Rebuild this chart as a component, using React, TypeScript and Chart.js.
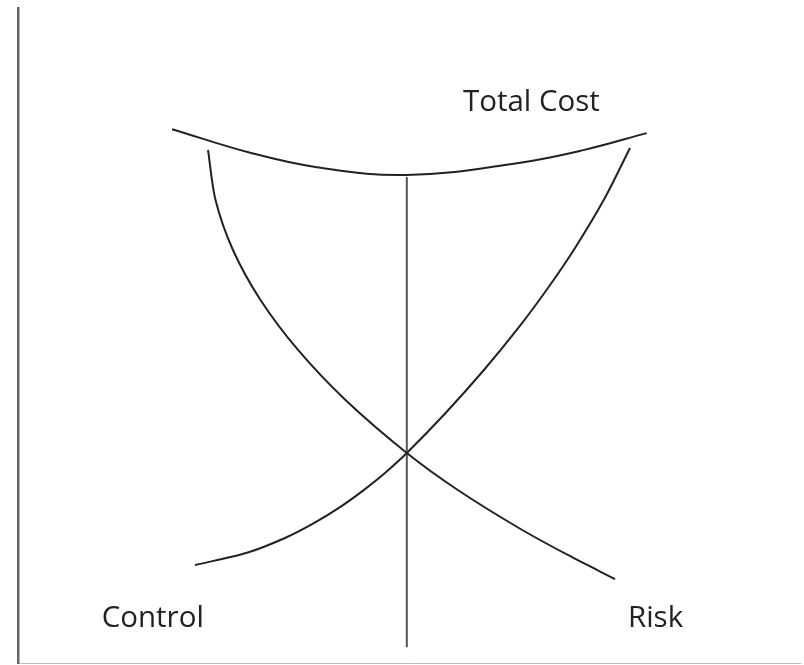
import React, { useEffect, useRef } from "react";
import { Chart, registerables } from "chart.js";

Chart.register(...registerables);

// Curves (arbitrary units 0..100 on both axes)
const totalCostX = [19.7, 29.7, 38.2, 49.7, 63.8, 72.3, 80.4];
const totalCostY = [81.5, 77.9, 75.7, 74.5, 76.3, 78.3, 80.9];

const riskX = [24.3, 25.26, 27.49, 31.01, 35.81, 41.88, 49.72, 56.24, 64.05, 70.31, 76.34];
const riskY = [78.32, 70.69, 63.05, 55.42, 47.79, 40.15, 32.06, 26.41, 20.61, 16.49, 12.82];

const controlX = [22.63, 29.28, 34.14, 37.72, 41.18, 44.12, 46.93, 49.72, 54.68, 59.58, 63.98, 67.77, 71.23, 75.04, 78.26];
const controlY = [14.96, 16.82, 19.08, 21.27, 23.8, 26.32, 29.02, 32.06, 38.17, 44.73, 51.15, 57.25, 63.36, 70.99, 78.63];

const optimumX = [49.72, 49.72];
const optimumY = [74.2, 2.4];

const labelTexts = ["Total Cost", "Control", "Risk"];
const labelX = [56.9, 10.7, 78.0];
const labelY = [84.3, 5.5, 5.5];

const zip = (xs: number[], ys: number[]) => xs.map((x, i) => ({ x, y: ys[i] }));

const labelPlugin = {
  id: "curveLabels",
  afterDatasetsDraw(chart: any) {
    const { ctx, scales } = chart;
    ctx.save();
    ctx.font = '29.5px "Open Sans", sans-serif';
    ctx.fillStyle = "#222";
    ctx.textAlign = "left";
    ctx.textBaseline = "alphabetic";
    labelTexts.forEach((t, i) => {
      ctx.fillText(t, scales.x.getPixelForValue(labelX[i]), scales.y.getPixelForValue(labelY[i]));
    });
    ctx.restore();
  },
};

export default function App() {
  const ref = useRef<HTMLCanvasElement | null>(null);
  useEffect(() => {
    if (!ref.current) return;
    const line = (data: any, color: string, width: number, tension: number) => ({
      data,
      showLine: true,
      borderColor: color,
      borderWidth: width,
      pointRadius: 0,
      tension,
      fill: false,
    });
    const chart = new Chart(ref.current, {
      type: "scatter",
      data: {
        datasets: [
          line(zip(totalCostX, totalCostY), "#222", 2, 0.4),
          line(zip(riskX, riskY), "#222", 2, 0.3),
          line(zip(controlX, controlY), "#222", 2, 0.3),
          line(zip(optimumX, optimumY), "#555", 2, 0),
        ] as any,
      },
      options: {
        animation: false,
        responsive: false,
        layout: { padding: { left: 18, right: 4, top: 8, bottom: 2 } },
        plugins: { legend: { display: false }, tooltip: { enabled: false } },
        scales: {
          x: {
            type: "linear",
            min: 0,
            max: 100,
            grid: { display: false, drawTicks: false },
            ticks: { display: false },
            border: { display: true, color: "#bbb", width: 1 },
          },
          y: {
            type: "linear",
            min: 0,
            max: 100,
            grid: { display: false, drawTicks: false },
            ticks: { display: false },
            border: { display: true, color: "#666", width: 2.5 },
          },
        },
      },
      plugins: [labelPlugin],
    });
    return () => chart.destroy();
  }, []);
  return (
    <div style={{ position: "fixed", left: 0, top: 0, width: 804, height: 665, background: "#fff" }}>
      <canvas ref={ref} width={804} height={665} style={{ width: 804, height: 665 }} />
    </div>
  );
}
